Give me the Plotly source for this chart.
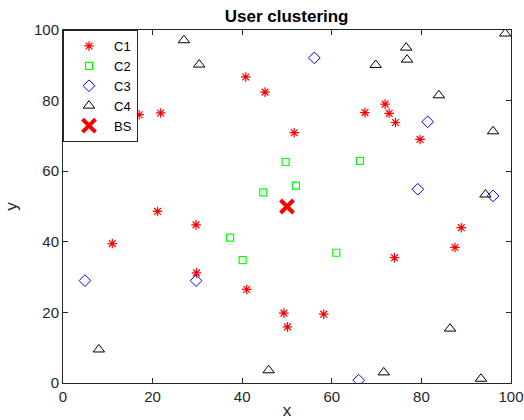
import plotly.graph_objects as go

# User positions per cluster
c1_x = [17.0, 21.8, 40.8, 45.1, 67.4, 51.6, 71.9, 72.8, 74.2, 79.7, 21.1,
        29.7, 11.0, 29.8, 88.9, 87.5, 74.0, 41.0, 49.3, 50.1, 58.2]
c1_y = [76.0, 76.5, 86.7, 82.4, 76.6, 70.9, 79.0, 76.4, 73.8, 69.0, 48.6,
        44.8, 39.5, 31.2, 44.0, 38.4, 35.5, 26.5, 19.8, 15.9, 19.5]

c2_x = [49.7, 66.3, 52.0, 44.7, 37.3, 40.1, 61.0]
c2_y = [62.6, 62.9, 55.9, 54.0, 41.2, 34.8, 36.9]

c3_x = [56.1, 81.4, 79.2, 96.0, 4.9, 29.7, 66.0]
c3_y = [92.1, 74.0, 54.9, 53.0, 29.0, 29.0, 0.8]

c4_x = [76.6, 76.8, 69.8, 98.7, 83.9, 96.0, 27.0, 30.4, 94.3, 8.0, 45.9,
        71.6, 86.4, 93.3]
c4_y = [95.0, 91.6, 90.1, 99.0, 81.5, 71.3, 97.1, 90.2, 53.4, 9.5, 3.6,
        3.0, 15.4, 1.2]

# Base station
bs_x = [50.0]
bs_y = [50.0]

FONT = "Liberation Sans, Arial"

fig = go.Figure()
fig.add_trace(go.Scatter(x=c1_x, y=c1_y, mode="markers", name="C1",
                         marker=dict(symbol="asterisk-open", size=8, color="#ff0000",
                                     line=dict(color="#ff0000", width=1.2))))
fig.add_trace(go.Scatter(x=c2_x, y=c2_y, mode="markers", name="C2",
                         marker=dict(symbol="square-open", size=7, color="#00ff00",
                                     line=dict(color="#00ff00", width=1.2))))
fig.add_trace(go.Scatter(x=c3_x, y=c3_y, mode="markers", name="C3",
                         marker=dict(symbol="diamond-open", size=9, color="#0000ff",
                                     line=dict(color="#0000ff", width=1))))
fig.add_trace(go.Scatter(x=c4_x, y=c4_y, mode="markers", name="C4",
                         marker=dict(symbol="triangle-up-open", size=10, color="#000000",
                                     line=dict(color="#000000", width=1))))
fig.add_trace(go.Scatter(x=bs_x, y=bs_y, mode="markers", name="BS",
                         marker=dict(symbol="x-thin-open", size=13, color="#ff0000",
                                     line=dict(color="#ff0000", width=4))))

axis_style = dict(range=[0, 100], tickvals=[0, 20, 40, 60, 80, 100],
                  showline=True, linecolor="#262626", linewidth=1,
                  mirror="ticks", ticks="inside", ticklen=5,
                  tickcolor="#262626", showgrid=False, zeroline=False,
                  automargin=False,
                  tickfont=dict(family=FONT, size=15, color="#262626"))

fig.update_layout(
    width=524, height=420,
    margin=dict(l=63, r=13, t=30, b=37),
    paper_bgcolor="white", plot_bgcolor="white",
    title=dict(text="<b>User clustering</b>", x=0.547, xanchor="center",
               y=0.962, yanchor="middle",
               font=dict(family=FONT, size=17, color="#000000")),
    xaxis=dict(**axis_style,
               title=dict(text="x", standoff=8,
                          font=dict(family=FONT, size=17, color="#262626"))),
    yaxis=dict(**axis_style,
               title=dict(text="y", standoff=12,
                          font=dict(family=FONT, size=17, color="#262626"))),
    legend=dict(x=0, y=1, xanchor="left", yanchor="top",
                bordercolor="#262626", borderwidth=1, bgcolor="white",
                font=dict(family=FONT, size=13, color="#000000"),
                itemwidth=40, tracegroupgap=0),
    showlegend=True,
)

fig.write_html("out.html")
